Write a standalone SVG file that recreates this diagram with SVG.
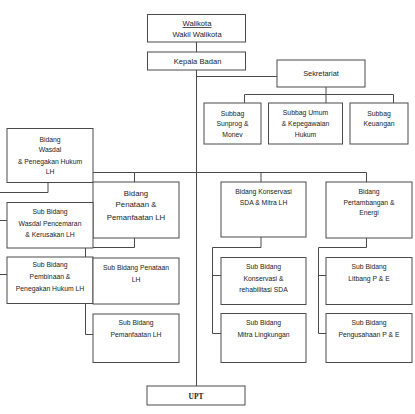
<svg xmlns="http://www.w3.org/2000/svg" width="415" height="414" viewBox="0 0 415 414">
<style>
.box{fill:#fff;stroke:#4a4a4a;stroke-width:1}
.ln{fill:none;stroke:#4a4a4a;stroke-width:1}
text{font-family:"Liberation Sans",Arial,sans-serif;font-size:6.8px;fill:#222;text-anchor:middle}
.top{font-size:7.6px}
.big{font-size:7.8px}
.sek{font-size:7.4px}
.upt{font-family:"Liberation Serif","Times New Roman",serif;font-weight:bold;font-size:7.4px}
</style>
<rect width="415" height="414" fill="#fff"/>
<g id="connectors">
<path class="ln" d="M196.5 42V52M196.5 70V386M196.5 76.5H277"/>
<path class="ln" d="M326 87V103M244.5 94.5H393.5M244.5 94.5V103M393.5 94.5V103"/>
<path class="ln" d="M93 172.5H366.5M134.5 172.5V182M261 172.5V182M366.5 172.5V182"/>
<path class="ln" d="M48 183V192.5H0M0 220.5H7M0 274.5H7"/>
<path class="ln" d="M134.5 238V247.5H85.5V334.5H93"/>
<path class="ln" d="M261 237V247.5H212.5V333.5H221M212.5 275.5H221"/>
<path class="ln" d="M366.5 238V247.5H318.5V333.5H326M318.5 275.5H326"/>
</g>
<g id="walikota"><rect class="box" x="147.5" y="14.5" width="98" height="27.5"/><text class="top" x="197" y="26" text-decoration="underline">Walikota</text><text class="top" x="197" y="36.7">Wakil Walikota</text></g>
<g id="kepala"><rect class="box" x="147.5" y="52" width="98" height="18"/><text class="top" x="197.5" y="63.5">Kepala Badan</text></g>
<g id="sekretariat"><rect class="box" x="277" y="60" width="88" height="27"/><text class="sek" x="321" y="76">Sekretariat</text></g>
<g id="sunprog"><rect class="box" x="204" y="103" width="57" height="41"/><text x="232.5" y="115.8">Subbag</text><text x="232.5" y="125.8">Sunprog &amp;</text><text x="232.5" y="136.8">Monev</text></g>
<g id="umum"><rect class="box" x="268.5" y="103" width="74" height="41"/><text x="305.5" y="115.2">Subbag Umum</text><text x="305.5" y="125.8">&amp; Kepegawaian</text><text x="305.5" y="136.8">Hukum</text></g>
<g id="keuangan"><rect class="box" x="350" y="103" width="58" height="41"/><text x="379" y="115.8">Subbag</text><text x="379" y="125.8">Keuangan</text></g>
<g id="wasdal"><rect class="box" x="7" y="128.5" width="86" height="54"/><text x="50" y="141.5">Bidang</text><text x="50" y="151.8">Wasdal</text><text x="50" y="163.5">&amp; Penegakan  Hukum</text><text x="50" y="174.2">LH</text></g>
<g id="penataan"><rect class="box" x="93" y="182" width="86" height="56"/><text class="big" x="136" y="195.5">Bidang</text><text class="big" x="136" y="207">Penataan &amp;</text><text class="big" x="136" y="219.5">Pemanfaatan  LH</text></g>
<g id="subwasdal"><rect class="box" x="7" y="202.5" width="86" height="45.5"/><text x="50" y="214.2">Sub Bidang</text><text x="50" y="225.8">Wasdal Pencemaran</text><text x="50" y="236.5">&amp; Kerusakan LH</text></g>
<g id="pembinaan"><rect class="box" x="7" y="257" width="86" height="46.5"/><text x="50" y="266.5">Sub Bidang</text><text x="50" y="278.5">Pembinaan &amp;</text><text x="50" y="290.8">Penegakan Hukum LH</text></g>
<g id="subpenataan"><rect class="box" x="93" y="258" width="86" height="46"/><text x="136" y="269.8">Sub Bidang Penataan</text><text x="136" y="281.8">LH</text></g>
<g id="pemanfaatan"><rect class="box" x="93" y="314" width="86" height="48.5"/><text x="136" y="325.2">Sub Bidang</text><text x="136" y="336.5">Pemanfaatan LH</text></g>
<g id="konservasi"><rect class="box" x="221" y="182" width="85" height="55"/><text x="263.5" y="194.2">Bidang Konservasi</text><text x="263.5" y="204.8">SDA &amp; Mitra LH</text></g>
<g id="pertambangan"><rect class="box" x="326" y="182" width="86" height="56"/><text x="369" y="194.2">Bidang</text><text x="369" y="204.8">Pertambangan &amp;</text><text x="369" y="215.2">Energi</text></g>
<g id="subkonservasi"><rect class="box" x="221" y="257.5" width="85" height="47"/><text x="263.5" y="269.2">Sub Bidang</text><text x="263.5" y="280.8">Konservasi &amp;</text><text x="263.5" y="291.8">rehabilitasi SDA</text></g>
<g id="mitra"><rect class="box" x="221" y="313.5" width="85" height="49"/><text x="263.5" y="324.8">Sub Bidang</text><text x="263.5" y="336.5">Mitra Lingkungan</text></g>
<g id="litbang"><rect class="box" x="326" y="257.5" width="86" height="47"/><text x="369" y="269.2">Sub Bidang</text><text x="369" y="280.8">Litbang P &amp; E</text></g>
<g id="pengusahaan"><rect class="box" x="326" y="313.5" width="86" height="49"/><text x="369" y="324.8">Sub Bidang</text><text x="369" y="336.5">Pengusahaan P &amp; E</text></g>
<g id="upt"><rect class="box" x="147" y="386" width="98" height="19"/><text class="upt" x="196" y="399.2">UPT</text></g>
</svg>
